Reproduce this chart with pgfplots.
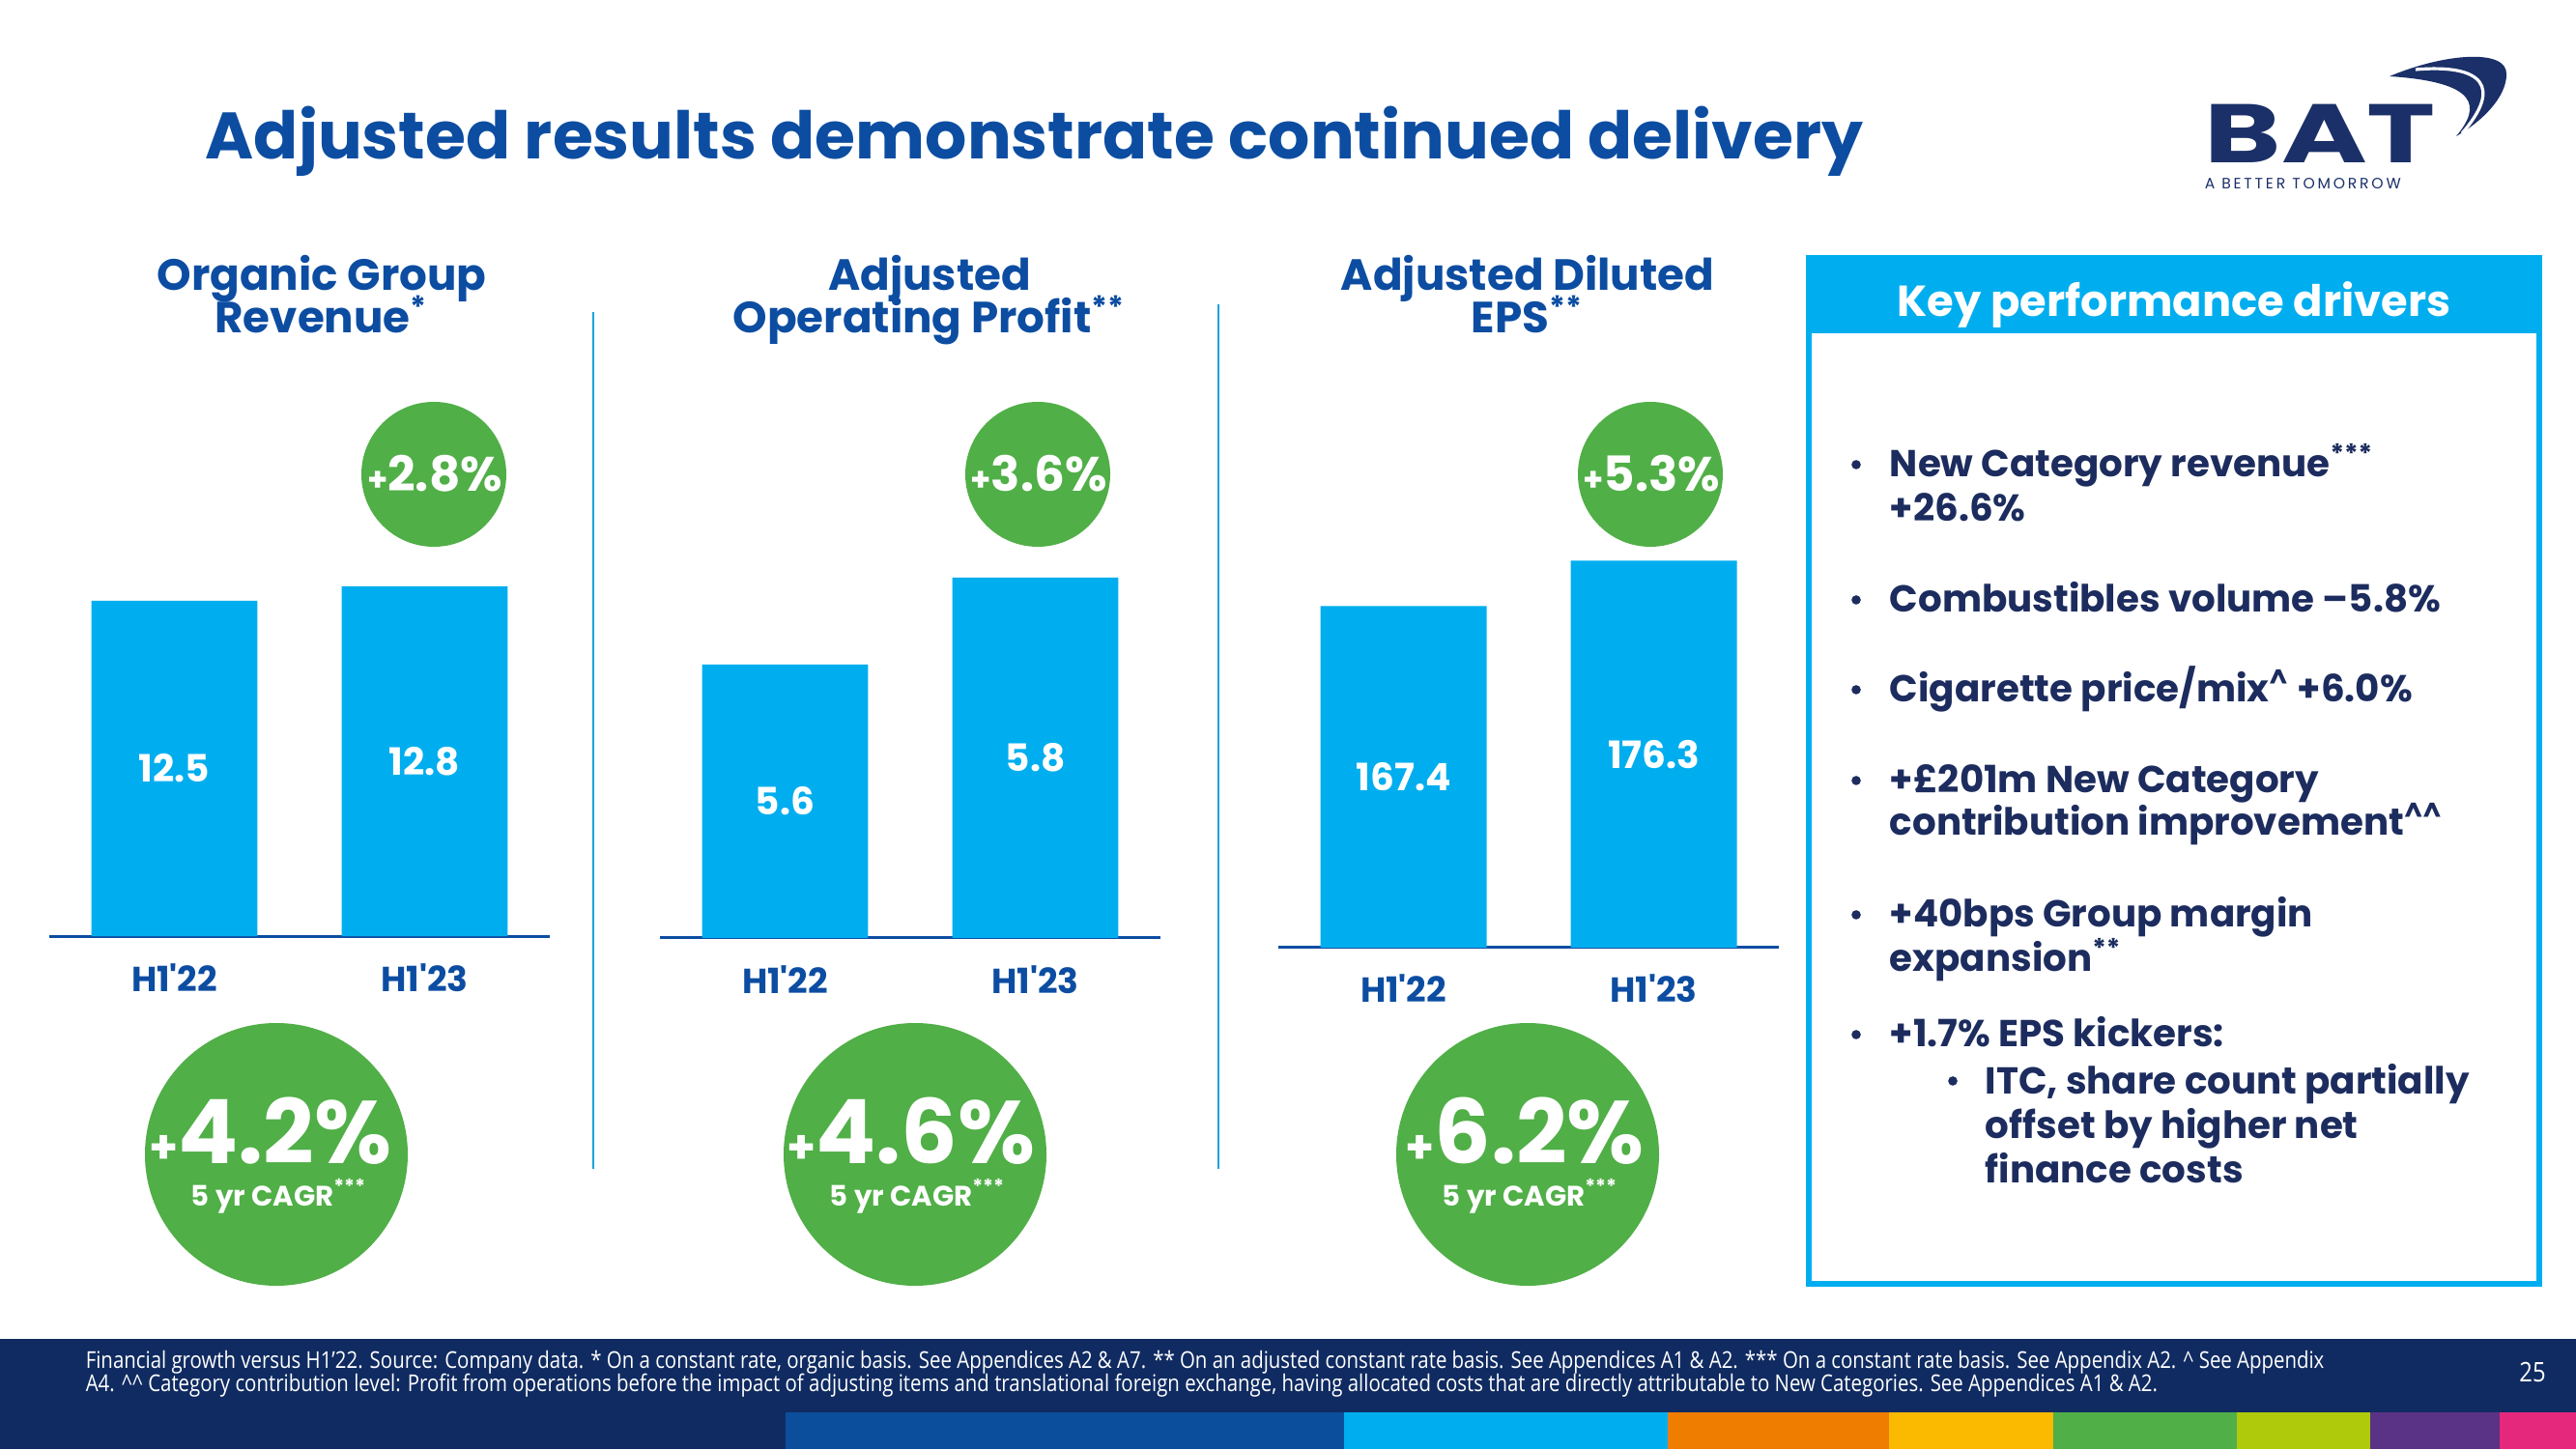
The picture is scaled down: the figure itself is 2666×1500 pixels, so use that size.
\documentclass[border=0pt]{standalone}
\usepackage{fontspec}
\setmainfont{Poppins}
\newfontfamily\footfont{Open Sans}[FakeStretch=0.85]
\usepackage{pgfplots}
\pgfplotsset{compat=1.18}
\definecolor{tblue}{HTML}{0C4DA2}
\definecolor{navy}{HTML}{1C2C5E}
\definecolor{logonavy}{HTML}{1B3068}
\definecolor{barblue}{HTML}{00AEEF}
\definecolor{kgreen}{HTML}{50AF47}
\definecolor{sepblue}{HTML}{1BA3D8}
\definecolor{footbg}{HTML}{102B61}
\definecolor{c1}{HTML}{0B4F9C}
\definecolor{c2}{HTML}{00AEEF}
\definecolor{c3}{HTML}{EF7D00}
\definecolor{c4}{HTML}{FBBA00}
\definecolor{c5}{HTML}{50AF47}
\definecolor{c6}{HTML}{AFCA0B}
\definecolor{c7}{HTML}{5A3286}
\definecolor{c8}{HTML}{E6287C}
\newcommand\fs[1]{\fontsize{#1}{#1}\selectfont}
\pgfplotsset{
 panel/.style={
  scale only axis, width=129.5pt, height=125pt, anchor=south west,
  xmin=-0.5, xmax=1.5,
  axis x line*=bottom, axis y line=none,
  x axis line style={-, draw=tblue, line width=0.75pt},
  xtick={0,1}, xticklabels={H1\textquotesingle22,H1\textquotesingle23},
  major tick length=0pt,
  xticklabel style={font=\fs{9}\bfseries, text=tblue, anchor=base, yshift=-14.25pt},
 },
 barsty/.style={ybar, bar width=0.664, fill=barblue, draw=none},
 lblsty/.style={draw=none, mark=none, nodes near coords, point meta=explicit symbolic,
   nodes near coords style={anchor=center, font=\fs{9.75}\bfseries, text=white}},
}
\begin{document}
\begin{tikzpicture}[x=0.25pt,y=0.25pt]
\fill[white] (0,0) rectangle (2666,1500);
\useasboundingbox (0,0) rectangle (2666,1500);
% ---- panel 1
\begin{axis}[panel, at={(12.75pt,132.75pt)}, ymin=5.56, ymax=15.56]
\addplot[barsty] coordinates {(0,12.5) (1,12.8)};
\addplot[lblsty] coordinates {(0,9.03)[12.5] (1,9.18)[12.8]};
\end{axis}
% ---- panel 2
\begin{axis}[panel, at={(170.75pt,132.25pt)}, ymin=4.971, ymax=6.082]
\addplot[barsty] coordinates {(0,5.6) (1,5.8)};
\addplot[lblsty] coordinates {(0,5.286)[5.6] (1,5.386)[5.8]};
\end{axis}
% ---- panel 3
\begin{axis}[panel, at={(330.75pt,129.75pt)}, ymin=100.4, ymax=195.1]
\addplot[barsty] coordinates {(0,167.4) (1,176.3)};
\addplot[lblsty] coordinates {(0,133.9)[167.4] (1,138.35)[176.3]};
\end{axis}
\begin{scope}[shift={(0,1500)}, yscale=-1]
% title
\node[anchor=base west, inner sep=0, text=tblue, font=\fs{17}\bfseries] at (212,165) {Adjusted results demonstrate continued delivery};
% logo
\node[anchor=base west, inner sep=0, text=logonavy] at (2281,169) {\scalebox{1.4}[1]{\fs{21.5}\bfseries BAT}};
\node[anchor=base west, inner sep=0, text=logonavy] at (2281,196) {\fs{3.9}\addfontfeatures{LetterSpace=18}A BETTER TOMORROW};
\fill[logonavy] (2473,79) .. controls (2530,55) and (2595,50) .. (2594,77) .. controls (2594,100) and (2570,125) .. (2542,141) .. controls (2568,110) and (2565,85) .. (2473,79) -- cycle;
\draw[white, line width=0.8pt] (2500,72) .. controls (2570,66) and (2590,90) .. (2548,138);
% panel titles
\begin{scope}[every node/.style={anchor=base, inner sep=0, text=tblue, font=\fs{11.3}\bfseries}]
\node at (333,301) {Organic Group};
\node at (333,345) {Revenue\textsuperscript{*}};
\node at (962,301) {Adjusted};
\node at (962,345) {Operating Profit\textsuperscript{**}};
\node at (1581,301) {Adjusted Diluted};
\node at (1581,345) {EPS\textsuperscript{**}};
\end{scope}
% separators
\draw[sepblue, line width=0.7pt] (614,323) -- (614,1210);
\draw[sepblue, line width=0.7pt] (1261,315) -- (1261,1210);
% small circles
\fill[kgreen] (449,491) circle (18.75pt);
\fill[kgreen] (1074,491) circle (18.75pt);
\fill[kgreen] (1708,491) circle (18.75pt);
\begin{scope}[every node/.style={anchor=base, inner sep=0, text=white}]
\node at (450,509) {\bfseries\fs{8.5}+\fs{12.5}2.8\%};
\node at (1075,509) {\bfseries\fs{8.5}+\fs{12.5}3.6\%};
\node at (1709,509) {\bfseries\fs{8.5}+\fs{12.5}5.3\%};
\end{scope}
% big circles
\fill[kgreen] (286,1195) circle (34pt);
\fill[kgreen] (947,1195) circle (34pt);
\fill[kgreen] (1581,1195) circle (34pt);
\begin{scope}[every node/.style={anchor=base, inner sep=0, text=white}]
\node at (280,1204) {\bfseries\fs{12}+\fs{23}4.2\%};
\node at (943,1204) {\bfseries\fs{12}+\fs{23}4.6\%};
\node at (1578,1204) {\bfseries\fs{12}+\fs{23}6.2\%};
\node at (289,1248) {\bfseries\fs{7.3}5 yr CAGR\textsuperscript{***}};
\node at (950,1248) {\bfseries\fs{7.3}5 yr CAGR\textsuperscript{***}};
\node at (1584,1248) {\bfseries\fs{7.3}5 yr CAGR\textsuperscript{***}};
\end{scope}
% key drivers box
\draw[barblue, line width=1.5pt] (1872,267) rectangle (2628,1329);
\fill[barblue] (1872,267) rectangle (2628,345);
\node[anchor=base, inner sep=0, text=white, font=\fs{11.2}\bfseries] at (2250,328) {Key performance drivers};
\begin{scope}[every node/.style={anchor=base west, inner sep=0, text=navy, font=\fs{9.7}\bfseries}]
\node at (1955,494) {New Category revenue\textsuperscript{***}};
\node at (1955,540) {+26.6\%};
\node at (1955,634) {Combustibles volume –5.8\%};
\node at (1955,727) {Cigarette price/mix\textsuperscript{\textasciicircum} +6.0\%};
\node at (1955,821) {+£201m New Category};
\node at (1955,865) {contribution improvement\textsuperscript{\textasciicircum\textasciicircum}};
\node at (1955,960) {+40bps Group margin};
\node at (1955,1006) {expansion\textsuperscript{**}};
\node at (1955,1084) {+1.7\% EPS kickers:};
\node at (2054,1132) {ITC, share count partially};
\node at (2054,1178) {offset by higher net};
\node at (2054,1224) {finance costs};
\end{scope}
\foreach \yy in {481,621,714,808,947,1071} {\fill[navy] (1921,\yy) circle (1.2pt);}
\fill[navy] (2021,1119) circle (1.2pt);
% footer
\fill[footbg] (0,1386) rectangle (2666,1500);
\fill[c1] (813,1462) rectangle (1391,1500);
\fill[c2] (1391,1462) rectangle (1726,1500);
\fill[c3] (1726,1462) rectangle (1955,1500);
\fill[c4] (1955,1462) rectangle (2125,1500);
\fill[c5] (2125,1462) rectangle (2315,1500);
\fill[c6] (2315,1462) rectangle (2453,1500);
\fill[c7] (2453,1462) rectangle (2587,1500);
\fill[c8] (2587,1462) rectangle (2666,1500);
\begin{scope}[every node/.style={anchor=base west, inner sep=0, text=white, font=\footfont\fs{6.0}}]
\node at (88,1416) {Financial growth versus H1’22. Source: Company data. * On a constant rate, organic basis. See Appendices A2 \& A7. ** On an adjusted constant rate basis. See Appendices A1 \& A2. *** On a constant rate basis. See Appendix A2. \textasciicircum{} See Appendix};
\node at (88,1440) {A4. \textasciicircum\textasciicircum{} Category contribution level: Profit from operations before the impact of adjusting items and translational foreign exchange, having allocated costs that are directly attributable to New Categories. See Appendices A1 \& A2.};
\end{scope}
\node[anchor=base, inner sep=0, text=white, font=\footfont\fs{7}] at (2621,1430) {25};
\end{scope}
\end{tikzpicture}
\end{document}
